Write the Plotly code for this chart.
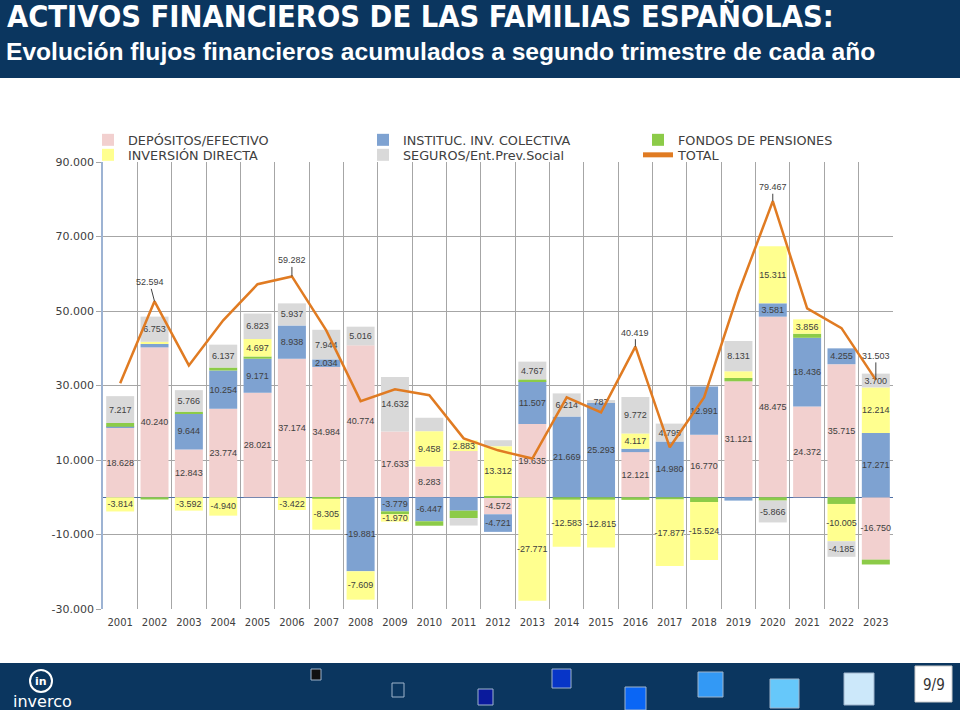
import plotly.graph_objects as go

# ---------------- data ----------------
years = [str(y) for y in range(2001, 2024)]

depositos = [18628, 40240, 12843, 23774, 28021, 37174, 34984, 40774, 17633, 8283, 12400, -4572,
             19635, 0, 0, 12121, 0, 16770, 31121, 48475, 24372, 35715, -16750]
iic = [300, 900, 9644, 10254, 9171, 8938, 2034, -19881, -3779, -6447, -3600, -4721,
       11507, 21669, 25293, 900, 14980, 12991, -900, 3581, 18436, 4255, 17271]
fondos = [1000, -600, 500, 800, 600, 0, -400, 0, -800, -1200, -2000, 400,
          500, -700, -700, -700, -600, -1300, 900, -900, 1100, -1800, -1300]
inversion = [-3814, 600, -3592, -4940, 4697, -3422, -8305, -7609, -1970, 9458, 2883, 13312,
             -27771, -12583, -12815, 4117, -17877, -15524, 1800, 15311, 3856, -10005, 12214]
seguros = [7217, 6753, 5766, 6137, 6823, 5937, 7944, 5016, 14632, 3600, -2000, 1600,
           4767, 6214, 787, 9772, 4795, 0, 8131, -5866, 0, -4185, 3700]
total = [30600, 52594, 35400, 47500, 57200, 59282, 44800, 25800, 29000, 27400, 15800, 12600,
         10400, 26800, 22800, 40419, 13400, 26800, 54900, 79467, 50700, 45400, 31503]

# which segments carry a data label (1 = labelled)
dep_lbl = [1, 1, 1, 1, 1, 1, 1, 1, 1, 1, 0, 1, 1, 0, 0, 1, 0, 1, 1, 1, 1, 1, 1]
iic_lbl = [0, 0, 1, 1, 1, 1, 1, 1, 1, 1, 0, 1, 1, 1, 1, 0, 1, 1, 0, 1, 1, 1, 1]
fon_lbl = [0] * 23
inv_lbl = [1, 0, 1, 1, 1, 1, 1, 1, 1, 1, 1, 1, 1, 1, 1, 1, 1, 1, 0, 1, 1, 1, 1]
seg_lbl = [1, 1, 1, 1, 1, 1, 1, 1, 1, 0, 0, 0, 1, 1, 1, 1, 1, 0, 1, 1, 0, 1, 1]

total_label_years = ["2002", "2006", "2016", "2020", "2023"]

series_names = ["DEPÓSITOS/EFECTIVO", "INSTITUC. INV. COLECTIVA", "FONDOS DE PENSIONES",
                "INVERSIÓN DIRECTA", "SEGUROS/Ent.Prev.Social"]
total_name = "TOTAL"

ytick_vals = [-30000, -10000, 10000, 30000, 50000, 70000, 90000]

title_text = "ACTIVOS FINANCIEROS DE LAS FAMILIAS ESPAÑOLAS:"
subtitle_text = "Evolución flujos financieros acumulados a segundo trimestre de cada año"
page_text = "9/9"
logo_text = "inverco"

# ---------------- helpers ----------------
def fmt(v):
    return f"{v:,}".replace(",", ".")

L, R, T, B = 103, 893, 162, 609
W, H = 960, 710

def px_x(px):
    return (px - L) / (R - L)

def px_y(py):
    return (B - py) / (B - T)

colors = ["#F2D0CF", "#7EA2D1", "#8CCB48", "#FFFF8F", "#D9D9D9"]
navy = "#0B365F"
lbl_font = dict(size=9, color="#404040", family="Liberation Sans, Arial, sans-serif")
legend_groups = ["legend", "legend", "legend", "legend2", "legend2"]

fig = go.Figure()
for name, vals, flags, col, lg in zip(series_names,
                                      [depositos, iic, fondos, inversion, seguros],
                                      [dep_lbl, iic_lbl, fon_lbl, inv_lbl, seg_lbl],
                                      colors, legend_groups):
    fig.add_trace(go.Bar(
        x=years, y=vals, name=name, legend=lg,
        marker=dict(color=col, line=dict(width=0)),
        text=[fmt(v) if f else "" for v, f in zip(vals, flags)],
        textposition="inside", insidetextanchor="middle", textangle=0,
        textfont=lbl_font, insidetextfont=lbl_font, cliponaxis=False,
        hoverinfo="x+y+name",
    ))

fig.add_trace(go.Scatter(
    x=years, y=total, name=total_name, mode="lines", legend="legend2",
    line=dict(color="#E07B22", width=2.5),
))

annotations = []
offsets = {"2002": (-5, -19), "2006": (0, -16), "2016": (0, -14), "2020": (0, -14), "2023": (0, -24)}
for yr in total_label_years:
    i = years.index(yr)
    ax, ay = offsets[yr]
    annotations.append(dict(
        x=i, y=total[i], xref="x", yref="y", text=fmt(total[i]),
        showarrow=True, arrowhead=0, arrowwidth=1, arrowcolor="#404040",
        ax=ax, ay=ay, standoff=0, font=lbl_font,
    ))

# header texts
annotations.append(dict(
    x=px_x(5), y=px_y(16), xref="paper", yref="paper", xanchor="left", yanchor="middle",
    text="<b>" + title_text + "</b>", showarrow=False,
    font=dict(size=30.5, color="white",
              family="Liberation Sans Narrow, DejaVu Sans Condensed, Arial Narrow, sans-serif"),
))
annotations.append(dict(
    x=px_x(4), y=px_y(51), xref="paper", yref="paper", xanchor="left", yanchor="middle",
    text="<b>" + subtitle_text + "</b>", showarrow=False,
    font=dict(size=24.6, color="white", family="Liberation Sans, Arial, sans-serif"),
))
# footer texts
annotations.append(dict(
    x=px_x(934), y=px_y(685), xref="paper", yref="paper", xanchor="center", yanchor="middle",
    text=page_text, showarrow=False,
    font=dict(size=15, color="#333333", family="Liberation Sans Narrow, DejaVu Sans Condensed, sans-serif"),
))
annotations.append(dict(
    x=px_x(42), y=px_y(701), xref="paper", yref="paper", xanchor="center", yanchor="middle",
    text=logo_text, showarrow=False,
    font=dict(size=16, color="white", family="DejaVu Sans, sans-serif"),
))
annotations.append(dict(
    x=px_x(41), y=px_y(681), xref="paper", yref="paper", xanchor="center", yanchor="middle",
    text="<b>in</b>", showarrow=False,
    font=dict(size=11, color="white", family="DejaVu Sans, sans-serif"),
))

def rect(x0, y0, x1, y1, fill, line=None, lw=0):
    return dict(type="rect", xref="paper", yref="paper",
                x0=px_x(x0), x1=px_x(x1), y0=px_y(y1), y1=px_y(y0),
                fillcolor=fill, line=dict(color=line or fill, width=lw), layer="above")

shapes = [
    rect(0, 0, W, 78, navy),
    rect(0, 663, W, H, navy),
    rect(311, 669, 321, 680, "#111111", "#9FB4CC", 1),
    rect(392, 683, 404, 697, navy, "#9FB4CC", 1),
    rect(478, 689, 493, 705, "#0A1A9C", "#9FB4CC", 1),
    rect(552, 669, 571, 688, "#0735C8", "#9FB4CC", 1),
    rect(625, 687, 646, 710, "#0A66F5", "#9FB4CC", 1),
    rect(698, 672, 723, 697, "#3399F5", "#9FB4CC", 1),
    rect(770, 679, 799, 708, "#66C8FA", "#9FB4CC", 1),
    rect(844, 673, 874, 705, "#CCE8FA", "#9FB4CC", 1),
    rect(915, 666, 952, 702, "#FFFFFF", "#CCCCCC", 1),
    dict(type="circle", xref="paper", yref="paper",
         x0=px_x(30), x1=px_x(52), y0=px_y(692), y1=px_y(670),
         line=dict(color="white", width=2), fillcolor="rgba(0,0,0,0)", layer="above"),
]

legend_common = dict(orientation="h", xanchor="left", yanchor="middle",
                     entrywidth=230, entrywidthmode="pixels", traceorder="normal",
                     font=dict(size=12.8, color="#404040", family="DejaVu Sans, sans-serif"),
                     bgcolor="rgba(0,0,0,0)", itemsizing="constant")

fig.update_layout(
    width=W, height=H,
    margin=dict(l=L, r=W - R, t=T, b=H - B, pad=0),
    barmode="relative", bargap=0.185,
    plot_bgcolor="white", paper_bgcolor="white",
    separators=",.",
    uniformtext=dict(mode=False),
    showlegend=True,
    legend=dict(x=px_x(88), y=px_y(140), **legend_common),
    legend2=dict(x=px_x(88), y=px_y(155), **legend_common),
    xaxis=dict(type="category", range=[-0.5, len(years) - 0.5], tickson="boundaries",
               showgrid=True, gridcolor="#A6A6A6",
               gridwidth=1, ticks="", showline=False, zeroline=False, ticklabelstandoff=6,
               tickfont=dict(size=10, color="#404040", family="DejaVu Sans, sans-serif")),
    yaxis=dict(range=[-30000, 90000], tickvals=ytick_vals, ticktext=[fmt(v) for v in ytick_vals],
               showgrid=True, gridcolor="#A6A6A6", gridwidth=1,
               zeroline=True, zerolinecolor="#4F6FA5", zerolinewidth=1,
               showline=True, linecolor="#9DB3D3", linewidth=1.5,
               ticks="outside", ticklen=5, tickcolor="#A6A6A6",
               tickfont=dict(size=11, color="#404040", family="DejaVu Sans, sans-serif")),
    annotations=annotations,
    shapes=shapes,
    font=dict(family="DejaVu Sans, sans-serif"),
)
fig.update_layout(barcornerradius=0)
fig.layout.update({"uniformtext": {"mode": False}})
fig.update_traces(selector=dict(type="bar"), constraintext="none")

fig.write_html("out.html", config={"displayModeBar": False},
               post_script="document.body.style.margin='0';")
